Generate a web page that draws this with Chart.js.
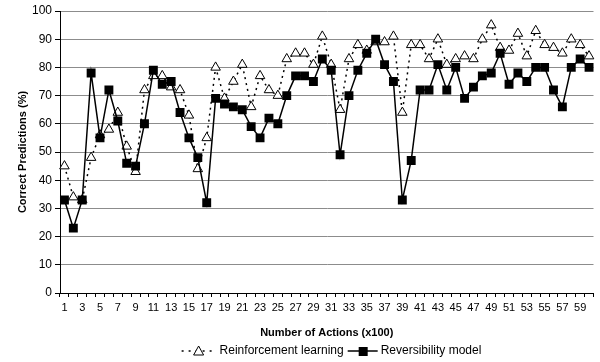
<!DOCTYPE html>
<html>
<head>
<meta charset="utf-8">
<script src="https://cdn.jsdelivr.net/npm/chart.js@4/dist/chart.umd.min.js"></script>
<style>
  html, body { margin: 0; padding: 0; background: #fff; }
  #wrap { width: 600px; height: 362px; }
</style>
</head>
<body>
<div id="wrap"><canvas id="accuracyChart" width="600" height="362"></canvas></div>
<script>
const actionLabels = ['1', '2', '3', '4', '5', '6', '7', '8', '9', '10',
    '11', '12', '13', '14', '15', '16', '17', '18', '19', '20',
    '21', '22', '23', '24', '25', '26', '27', '28', '29', '30',
    '31', '32', '33', '34', '35', '36', '37', '38', '39', '40',
    '41', '42', '43', '44', '45', '46', '47', '48', '49', '50',
    '51', '52', '53', '54', '55', '56', '57', '58', '59', '60'];

const reinforcementData = [45, 34, 33, 48, 56, 58, 64, 52, 43, 72,
    77, 77, 73, 72, 63, 44, 55, 80, 69, 75,
    81, 66, 77, 72, 70, 83, 85, 85, 81, 91,
    81, 65, 83, 88, 86, 89, 89, 91, 64, 88,
    88, 83, 90, 81, 83, 84, 83, 90, 95, 87,
    86, 92, 84, 93, 88, 87, 85, 90, 88, 84];

const reversibilityData = [33, 23, 33, 78, 55, 72, 61, 46, 45, 60,
    79, 74, 75, 64, 55, 48, 32, 69, 67, 66,
    65, 59, 55, 62, 60, 70, 77, 77, 75, 83,
    79, 49, 70, 79, 85, 90, 81, 75, 33, 47,
    72, 72, 81, 72, 80, 69, 73, 77, 78, 85,
    74, 78, 75, 80, 80, 72, 66, 80, 83, 80];

const seriesNames = ['Reinforcement learning', 'Reversibility model'];

const FONT = 'Liberation Sans, Arial, sans-serif';

// legend drawn by hand so the line style shows next to the marker
const bottomLegend = {
    id: 'bottomLegend',
    afterDraw(chart) {
        const ctx = chart.ctx;
        const y = 351;
        ctx.save();
        ctx.font = '12px ' + FONT;
        ctx.fillStyle = '#000';
        ctx.textBaseline = 'middle';
        const w1 = ctx.measureText(seriesNames[0]).width;
        const w2 = ctx.measureText(seriesNames[1]).width;
        const total = 36 + w1 + 4 + 32 + w2;
        let x = 330 - total / 2;

        // dotted + triangle
        ctx.strokeStyle = '#000';
        ctx.lineWidth = 1.5;
        ctx.setLineDash([2, 5]);
        ctx.beginPath();
        ctx.moveTo(x, y);
        ctx.lineTo(x + 34, y);
        ctx.stroke();
        ctx.setLineDash([]);
        ctx.lineWidth = 1;
        ctx.fillStyle = '#fff';
        ctx.beginPath();
        ctx.moveTo(x + 17, y - 5);
        ctx.lineTo(x + 22, y + 4);
        ctx.lineTo(x + 12, y + 4);
        ctx.closePath();
        ctx.fill();
        ctx.stroke();
        ctx.fillStyle = '#000';
        ctx.fillText(seriesNames[0], x + 38, y);
        x += 38 + w1 + 4;

        // solid + square
        ctx.lineWidth = 1.5;
        ctx.beginPath();
        ctx.moveTo(x, y);
        ctx.lineTo(x + 30, y);
        ctx.stroke();
        ctx.fillRect(x + 11, y - 4, 9, 9);
        ctx.fillText(seriesNames[1], x + 33, y);
        ctx.restore();
    }
};

function createAccuracyChart() {
    const ctx = document.getElementById('accuracyChart').getContext('2d');
    new Chart(ctx, {
        type: 'line',
        data: {
            labels: actionLabels,
            datasets: [{
                label: seriesNames[0],
                data: reinforcementData,
                borderColor: '#000',
                borderWidth: 1.5,
                borderDash: [2, 4],
                pointStyle: 'triangle',
                pointRadius: 5.5,
                pointBackgroundColor: '#fff',
                pointBorderColor: '#000',
                pointBorderWidth: 1,
                tension: 0,
                order: 1,
            }, {
                label: seriesNames[1],
                data: reversibilityData,
                borderColor: '#000',
                borderWidth: 1.5,
                pointStyle: 'rect',
                pointRadius: 6.3,
                pointBackgroundColor: '#000',
                pointBorderColor: '#000',
                pointBorderWidth: 0,
                tension: 0,
                order: 0,
            }],
        },
        options: {
            responsive: false,
            animation: false,
            layout: {
                padding: { top: 11, right: 2, bottom: 22, left: 0 },
            },
            plugins: {
                legend: { display: false },
                tooltip: { enabled: false },
            },
            scales: {
                x: {
                    offset: true,
                    grid: {
                        offset: true,
                        drawOnChartArea: false,
                        color: '#000',
                        tickLength: 4,
                    },
                    border: { color: '#000', width: 1 },
                    ticks: {
                        autoSkip: false,
                        maxRotation: 0,
                        padding: 4,
                        color: '#000',
                        font: { family: FONT, size: 11 },
                        callback: function (value, index) {
                            return index % 2 === 0 ? this.getLabelForValue(value) : '';
                        },
                    },
                    title: {
                        display: true,
                        text: 'Number of Actions (x100)',
                        color: '#000',
                        font: { family: FONT, size: 11, weight: 'bold' },
                        padding: { top: 4, bottom: 0 },
                    },
                    afterFit: (scale) => { scale.height = 47; },
                },
                y: {
                    min: 0,
                    max: 100,
                    ticks: {
                        stepSize: 10,
                        color: '#000',
                        padding: 3,
                        font: { family: FONT, size: 12 },
                    },
                    grid: {
                        color: '#8c8c8c',
                        tickColor: '#000',
                        tickLength: 5,
                    },
                    border: { color: '#000', width: 1 },
                    title: {
                        display: true,
                        text: 'Correct Predictions (%)',
                        color: '#000',
                        font: { family: FONT, size: 11, weight: 'bold' },
                        padding: { top: 16, bottom: 2 },
                    },
                    afterFit: (scale) => { scale.width = 60; },
                },
            },
        },
        plugins: [bottomLegend],
    });
}

document.addEventListener('DOMContentLoaded', () => {
    createAccuracyChart();
});
</script>
</body>
</html>
